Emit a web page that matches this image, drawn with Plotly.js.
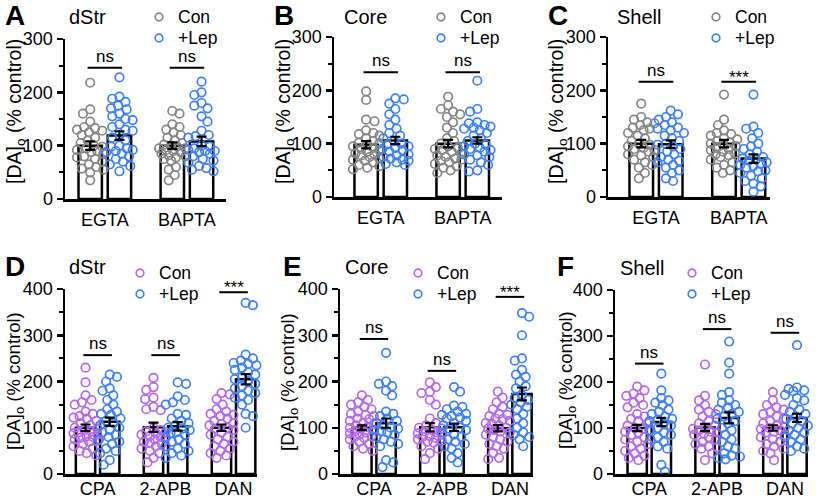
<!DOCTYPE html>
<html><head><meta charset="utf-8">
<script src="https://cdn.plot.ly/plotly-3.0.1.min.js"></script>
<style>html,body{margin:0;padding:0;background:#fff}#chart{width:820px;height:500px}</style>
</head><body><div id="chart"></div>
<script>
// ---------- categories ----------
const topCats = ['EGTA', 'BAPTA'];
const botCats = ['CPA', '2-APB', 'DAN'];
const seriesNames = ['Con', '+Lep'];
const regions = ['dStr', 'Core', 'Shell'];

// ---------- A: dStr (EGTA / BAPTA) ----------
const A_EGTA_Con = [218,168,160,145,135,133,130,128,125,120,115,110,105,100,98,95,92,90,88,85,80,78,75,70,65,60,57,55,50,35];
const A_EGTA_Lep = [228,192,188,182,175,170,168,160,155,150,148,140,135,130,128,120,115,110,100,98,95,92,90,88,85,80,75,70,65,62,52];
const A_BAPTA_Con = [165,160,140,135,130,125,120,115,110,105,102,100,98,95,95,92,90,88,85,82,80,78,75,72,60,55,45,35];
const A_BAPTA_Lep = [220,200,195,180,175,170,155,145,128,120,118,115,100,98,95,92,90,90,88,85,80,75,72,68,62,58,55,52];
const A_conMean = [100, 100], A_conSem = [8, 6];
const A_lepMean = [119, 108], A_lepSem = [8, 9];
const A_sigY = [246, 246], A_sig = ['ns', 'ns'];

// ---------- B: Core (EGTA / BAPTA) ----------
const B_EGTA_Con = [198,182,145,142,125,120,118,115,110,105,102,100,98,95,92,90,88,85,82,80,78,75,72,70,68,65,60,58,55,52];
const B_EGTA_Lep = [185,183,175,165,155,145,135,128,120,115,110,105,100,98,95,92,90,88,85,80,78,75,72,70,68,65,62,60];
const B_BAPTA_Con = [188,172,165,160,155,150,140,130,120,110,105,100,95,92,90,88,85,82,78,75,72,70,68,65,62,58,55,50,45];
const B_BAPTA_Lep = [218,165,160,140,138,135,132,130,128,125,120,115,110,105,100,98,95,92,90,88,85,80,78,75,70,65,60,50,48];
const B_conMean = [98, 100], B_conSem = [7, 7];
const B_lepMean = [106, 106], B_lepSem = [7, 6];
const B_sigY = [234, 234], B_sig = ['ns', 'ns'];

// ---------- C: Shell (EGTA / BAPTA) ----------
const C_EGTA_Con = [175,150,145,140,138,135,130,128,125,120,115,110,105,100,98,95,92,90,88,85,80,78,75,70,65,60,55,45,35];
const C_EGTA_Lep = [162,155,150,145,140,135,130,128,125,120,115,110,105,100,98,95,90,85,80,75,70,68,65,60,55,50,45,35,30];
const C_BAPTA_Con = [192,145,135,125,120,118,115,110,108,105,102,100,98,95,92,90,88,85,82,80,78,75,70,65,60,55,50,45];
const C_BAPTA_Lep = [192,132,128,120,110,100,95,90,85,80,75,72,70,68,65,62,60,58,55,50,48,45,40,35,30,25,20,10];
const C_conMean = [100, 100], C_conSem = [7, 7];
const C_lepMean = [99, 72], C_lepSem = [7, 8];
const C_sigY = [216, 216], C_sig = ['ns', '***'];

// ---------- D: dStr (CPA / 2-APB / DAN) ----------
const D_CPA_Con = [230,198,170,160,155,150,135,130,125,122,120,115,110,105,100,98,95,92,90,88,85,82,80,78,75,72,70,65,60,55,50,45,40];
const D_CPA_Lep = [215,210,200,185,180,170,160,150,140,135,130,128,120,115,110,105,100,95,90,85,80,75,70,65,55,50,45,30,20];
const D_APB_Con = [208,188,182,165,162,145,140,138,100,95,92,90,88,85,82,80,78,75,70,68,65,60,55,50,45,35,25];
const D_APB_Lep = [198,195,168,160,155,150,130,128,120,115,110,105,100,98,95,90,88,85,80,75,70,65,60,55,50,45,40,35];
const D_DAN_Con = [175,172,162,150,140,135,130,128,125,120,115,110,108,105,100,98,95,90,85,80,75,70,65,60,55,50,45,40,35];
const D_DAN_Lep = [370,365,258,250,245,240,238,235,230,225,220,215,210,205,200,195,190,185,180,175,170,165,160,150,130,125,100];
const D_conMean = [100, 101, 100], D_conSem = [7, 10, 7];
const D_lepMean = [113, 103, 205], D_lepSem = [9, 9, 11];
const D_sigY = [257, 257, 393], D_sig = ['ns', 'ns', '***'];

// ---------- E: Core (CPA / 2-APB / DAN) ----------
const E_CPA_Con = [170,160,155,150,145,140,135,130,128,125,120,118,115,110,108,105,102,100,98,95,92,90,88,85,82,80,78,75,70,65,60,55,50];
const E_CPA_Lep = [262,200,195,190,180,170,135,130,125,120,115,110,105,100,98,95,92,90,85,80,75,70,65,60,30,25,15];
const E_APB_Con = [198,188,178,175,160,150,120,110,105,100,98,95,92,90,88,85,82,80,78,75,72,70,68,60,55,45,32];
const E_APB_Lep = [188,178,148,145,140,135,130,128,125,122,120,115,110,105,100,98,95,90,85,80,75,70,65,60,55,45,35,25];
const E_DAN_Con = [178,165,155,145,140,130,128,125,120,118,115,110,108,105,100,98,95,92,90,85,80,75,70,65,60,55,45,35,32];
const E_DAN_Lep = [348,340,300,250,245,225,215,210,200,190,185,170,165,160,155,150,148,145,140,130,120,110,100,90,85,80,75,60];
const E_conMean = [100, 101, 99], E_conSem = [5, 9, 7];
const E_lepMean = [110, 101, 173], E_lepSem = [10, 8, 14];
const E_sigY = [292, 223, 383], E_sig = ['ns', 'ns', '***'];

// ---------- F: Shell (CPA / 2-APB / DAN) ----------
const F_CPA_Con = [190,182,175,170,165,155,150,145,130,125,120,115,110,105,100,98,95,92,90,85,80,75,70,65,60,55,50,45,40,35,30];
const F_CPA_Lep = [218,182,165,160,155,150,140,135,130,125,120,118,115,110,105,100,95,90,85,80,75,70,60,55,20,5];
const F_APB_Con = [238,170,160,150,140,135,130,125,115,110,105,100,98,95,92,90,88,85,80,75,70,65,60,58,55,45,30];
const F_APB_Lep = [288,242,218,178,172,160,155,150,145,140,135,130,125,120,115,110,100,95,85,75,70,60,55,45,40,38,35,32];
const F_DAN_Con = [178,160,150,145,140,135,130,125,120,115,110,105,102,100,98,95,92,90,85,80,75,70,65,60,55,50,45,30];
const F_DAN_Lep = [280,188,185,182,180,178,172,165,160,150,140,135,130,125,120,115,110,105,100,95,90,85,80,75,70,60,55,50];
const F_conMean = [100, 101, 100], F_conSem = [7, 8, 6];
const F_lepMean = [113, 122, 122], F_lepSem = [9, 12, 9];
const F_sigY = [240, 315, 307], F_sig = ['ns', 'ns', 'ns'];

// ---------- styling / geometry ----------
const W = 820, H = 500;
const OFF = 0.178, BW = 0.285, SIGHALF = 0.21;
const FONT = '"Liberation Sans", Arial, Helvetica, sans-serif';
const GRAY = '#858585', BLUE = '#3d80f5', PURPLE = '#b468ea';
const MSIZE = 8.5, MLINE = 1.7;

const panels = [
  {letter:'A', region:regions[0], cats:topCats, con:[A_EGTA_Con,A_BAPTA_Con], lep:[A_EGTA_Lep,A_BAPTA_Lep],
   conMean:A_conMean, conSem:A_conSem, lepMean:A_lepMean, lepSem:A_lepSem, sigY:A_sigY, sig:A_sig, conColor:GRAY,
   L:65, R:226, T:39, B:199, yMax:300, xr:[-0.485,1.476], letterX:15, letterY:15, regX:67, regY:17,
   legX:159, legY:17, titleX:16, titleY:112, titleSize:19.5, standoff:3},
  {letter:'B', region:regions[1], cats:topCats, con:[B_EGTA_Con,B_BAPTA_Con], lep:[B_EGTA_Lep,B_BAPTA_Lep],
   conMean:B_conMean, conSem:B_conSem, lepMean:B_lepMean, lepSem:B_lepSem, sigY:B_sigY, sig:B_sig, conColor:GRAY,
   L:334, R:502, T:37, B:197, yMax:300, xr:[-0.57,1.479], letterX:284, letterY:15, regX:342, regY:17,
   legX:441, legY:17, titleX:285, titleY:112, titleSize:19.5, standoff:3},
  {letter:'C', region:regions[2], cats:topCats, con:[C_EGTA_Con,C_BAPTA_Con], lep:[C_EGTA_Lep,C_BAPTA_Lep],
   conMean:C_conMean, conSem:C_conSem, lepMean:C_lepMean, lepSem:C_lepSem, sigY:C_sigY, sig:C_sig, conColor:GRAY,
   L:608, R:770, T:37, B:197, yMax:300, xr:[-0.58,1.378], letterX:558, letterY:15, regX:615, regY:17,
   legX:716, legY:17, titleX:558, titleY:112, titleSize:19.5, standoff:3},
  {letter:'D', region:regions[0], cats:botCats, con:[D_CPA_Con,D_APB_Con,D_DAN_Con], lep:[D_CPA_Lep,D_APB_Lep,D_DAN_Lep],
   conMean:D_conMean, conSem:D_conSem, lepMean:D_lepMean, lepSem:D_lepSem, sigY:D_sigY, sig:D_sig, conColor:PURPLE,
   L:65, R:257, T:289, B:474, yMax:400, xr:[-0.48,2.345], letterX:15, letterY:266, regX:67, regY:267,
   legX:140, legY:273, titleX:15, titleY:381, titleSize:18.5, standoff:-3},
  {letter:'E', region:regions[1], cats:botCats, con:[E_CPA_Con,E_APB_Con,E_DAN_Con], lep:[E_CPA_Lep,E_APB_Lep,E_DAN_Lep],
   conMean:E_conMean, conSem:E_conSem, lepMean:E_lepMean, lepSem:E_lepSem, sigY:E_sigY, sig:E_sig, conColor:PURPLE,
   L:340, R:533, T:289, B:474, yMax:400, xr:[-0.5,2.34], letterX:292, letterY:266, regX:343, regY:267,
   legX:418, legY:273, titleX:289, titleY:382, titleSize:18.5, standoff:-3},
  {letter:'F', region:regions[2], cats:botCats, con:[F_CPA_Con,F_APB_Con,F_DAN_Con], lep:[F_CPA_Lep,F_APB_Lep,F_DAN_Lep],
   conMean:F_conMean, conSem:F_conSem, lepMean:F_lepMean, lepSem:F_lepSem, sigY:F_sigY, sig:F_sig, conColor:PURPLE,
   L:615, R:808, T:290, B:474, yMax:400, xr:[-0.505,2.34], letterX:565, letterY:266, regX:618, regY:268,
   legX:692, legY:273, titleX:567, titleY:380, titleSize:18.5, standoff:-3}
];

// deterministic beeswarm in pixel space -> offsets in data units
function swarm(vals, pxPerY, pxPerX, d, maxOff) {
  const order = vals.map((v, i) => i).sort((a, b) => vals[b] - vals[a]);
  const placed = [];
  const off = new Array(vals.length).fill(0);
  const step = 1.2;
  order.forEach((i, n) => {
    const y = vals[i] * pxPerY;
    const cands = [0];
    const sgn = n % 2 ? 1 : -1;
    for (let k = 1; k * step <= maxOff; k++) { cands.push(sgn * k * step, -sgn * k * step); }
    let chosen = null, bestX = 0, bestMin = -1;
    for (const cx of cands) {
      let minD = Infinity;
      for (const p of placed) { const dd = Math.hypot(p.x - cx, p.y - y); if (dd < minD) minD = dd; }
      if (minD >= d) { chosen = cx; break; }
      if (minD > bestMin) { bestMin = minD; bestX = cx; }
    }
    const x = chosen === null ? bestX : chosen;
    placed.push({x, y});
    off[i] = x / pxPerX;
  });
  return off;
}

const traces = [];
const layout = {
  width: W, height: H, margin: {l:0, r:0, t:0, b:0},
  paper_bgcolor: '#fff', plot_bgcolor: 'rgba(0,0,0,0)',
  barmode: 'overlay', hovermode: false, showlegend: false,
  font: {family: FONT, size: 18, color: '#000'},
  annotations: [], shapes: []
};

panels.forEach((p, i) => {
  const n = i + 1, sfx = i ? String(n) : '';
  const xa = 'x' + sfx, ya = 'y' + sfx;
  const pxPerX = (p.R - p.L) / (p.xr[1] - p.xr[0]);
  const pxPerY = (p.B - p.T) / p.yMax;
  const g = p.cats.map((c, k) => k);

  layout['xaxis' + sfx] = {
    domain: [p.L / W, p.R / W], range: p.xr, anchor: ya,
    showline: true, linewidth: 2.5, linecolor: '#000', ticks: '', showgrid: false, zeroline: false,
    tickmode: 'array', tickvals: g, ticktext: p.cats, tickfont: {size: 18}, ticklabelstandoff: p.standoff, fixedrange: true
  };
  layout['yaxis' + sfx] = {
    domain: [1 - p.B / H, 1 - p.T / H], range: [0, p.yMax], anchor: xa,
    showline: true, linewidth: 2.5, linecolor: '#000', ticks: 'outside', ticklen: 6, tickwidth: 2.5, tickcolor: '#000',
    dtick: 100, tickfont: {size: 18}, showgrid: false, zeroline: false, fixedrange: true,
    minor: {dtick: 50, ticks: 'outside', ticklen: 4, tickwidth: 2, tickcolor: '#000', showgrid: false}
  };

  // bars
  traces.push({type:'bar', x: g.map(k => k - OFF), y: p.conMean, width: BW, xaxis: xa, yaxis: ya,
    marker: {color: '#fff', line: {color: '#000', width: 2.5}}});
  traces.push({type:'bar', x: g.map(k => k + OFF), y: p.lepMean, width: BW, xaxis: xa, yaxis: ya,
    marker: {color: '#fff', line: {color: '#000', width: 2.5}}});

  // individual points
  const maxOff = i < 3 ? 14 : 12.5;
  [[p.con, -OFF, p.conColor, seriesNames[0]], [p.lep, OFF, BLUE, seriesNames[1]]].forEach(([groups, o, col, name]) => {
    const xs = [], ys = [];
    groups.forEach((vals, k) => {
      const offs = swarm(vals, pxPerY, pxPerX, 7.5, maxOff);
      vals.forEach((v, j) => { xs.push(k + o + offs[j]); ys.push(v); });
    });
    traces.push({type:'scatter', mode:'markers', x: xs, y: ys, xaxis: xa, yaxis: ya, name: name,
      cliponaxis: false, marker: {symbol: 'circle-open', size: MSIZE, color: col, line: {width: MLINE, color: col}}});
  });

  // error bars (mean ± SEM)
  traces.push({type:'scatter', mode:'markers', xaxis: xa, yaxis: ya, cliponaxis: false,
    x: g.map(k => k - OFF).concat(g.map(k => k + OFF)), y: p.conMean.concat(p.lepMean),
    marker: {size: 1, color: 'rgba(0,0,0,0)'},
    error_y: {type: 'data', array: p.conSem.concat(p.lepSem), color: '#000', thickness: 2.2, width: 5}});

  // significance bars
  const sx = [], sy = [];
  g.forEach(k => { sx.push(k - SIGHALF, k + SIGHALF, null); sy.push(p.sigY[k], p.sigY[k], null); });
  traces.push({type:'scatter', mode:'lines', x: sx, y: sy, xaxis: xa, yaxis: ya, cliponaxis: false,
    line: {color: '#000', width: 2}});
  g.forEach(k => {
    layout.annotations.push({xref: xa, yref: ya, x: k, y: p.sigY[k], text: p.sig[k], showarrow: false,
      yanchor: 'bottom', yshift: p.sig[k] === '***' ? -7 : 0, font: {size: 17}});
  });

  // legend (symbols + labels)
  [[p.conColor, seriesNames[0], 0], [BLUE, seriesNames[1], 21]].forEach(([col, name, dy]) => {
    const r = (MSIZE - MLINE) / 2 + 0.4;
    layout.shapes.push({type:'circle', xref:'paper', yref:'paper', xsizemode:'pixel', ysizemode:'pixel',
      xanchor: p.legX / W, yanchor: 1 - (p.legY + dy) / H, x0: -r, x1: r, y0: -r, y1: r,
      line: {color: col, width: MLINE}, fillcolor: 'rgba(0,0,0,0)'});
    layout.annotations.push({xref:'paper', yref:'paper', x: (p.legX + 17) / W, y: 1 - (p.legY + dy) / H, text: name,
      showarrow: false, xanchor: 'left', yanchor: 'middle', font: {size: 17.5}});
  });

  // panel letter, region label, y title
  layout.annotations.push({xref:'paper', yref:'paper', x: p.letterX / W, y: 1 - p.letterY / H, text: '<b>' + p.letter + '</b>',
    showarrow: false, xanchor: 'center', yanchor: 'middle', font: {size: 28}});
  layout.annotations.push({xref:'paper', yref:'paper', x: p.regX / W, y: 1 - p.regY / H, text: p.region,
    showarrow: false, xanchor: 'left', yanchor: 'middle', font: {size: 20}});
  layout.annotations.push({xref:'paper', yref:'paper', x: p.titleX / W, y: 1 - p.titleY / H, text: '[DA]<sub>o</sub> (% control)',
    showarrow: false, xanchor: 'center', yanchor: 'middle', textangle: -90, font: {size: p.titleSize}});
});

Plotly.newPlot('chart', traces, layout, {staticPlot: true, displayModeBar: false});
</script>
</body></html>
